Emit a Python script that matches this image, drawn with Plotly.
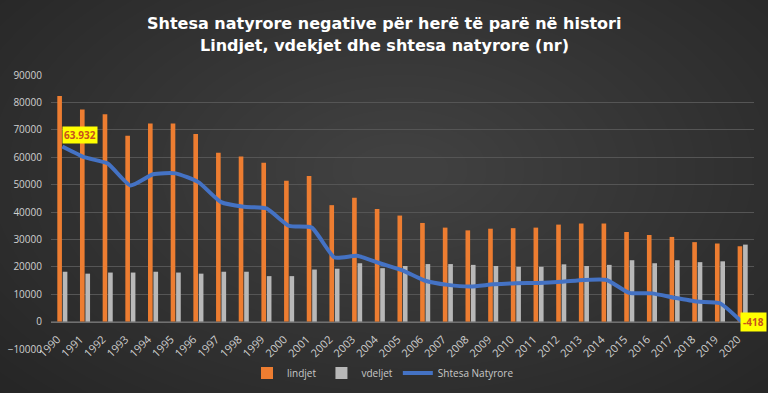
import plotly.graph_objects as go

years = [str(y) for y in range(1990, 2021)]
lindjet = [82300, 77400, 75700, 67800, 72300, 72300, 68500, 61600, 60300, 58000,
           51400, 53100, 42500, 45200, 41100, 38700, 36000, 34300, 33300, 33900,
           34100, 34300, 35400, 35800, 35800, 32700, 31600, 30900, 29000, 28500, 27500]
vdekjet = [18200, 17500, 17900, 17900, 18200, 17900, 17500, 18200, 18200, 16600,
           16600, 19000, 19300, 21300, 19500, 20300, 21000, 21000, 20700, 20300,
           20000, 20000, 20900, 20300, 20700, 22400, 21300, 22400, 21700, 22000, 28100]
shtesa = [63932, 59900, 57700, 49700, 53800, 54100, 50900, 43600, 41900, 41300,
          34900, 34300, 23400, 24000, 21300, 18700, 14900, 13400, 12800, 13600,
          14000, 14100, 14500, 15200, 15200, 10500, 10300, 8700, 7300, 6700, -418]
label_first = "63.932"
label_last = "-418"
title_1 = "Shtesa natyrore negative për herë të parë në histori"
title_2 = "Lindjet, vdekjet dhe shtesa natyrore (nr)"

W, H = 768, 393
ML, MR, MT, MB = 51, 14, 75, 44
pw = W - ML - MR
ph = H - MT - MB


def py(px):
    return (H - MB - px) / ph


def pxx(px):
    return (px - ML) / pw


fig = go.Figure()
fig.add_trace(go.Bar(x=years, y=lindjet, name="lindjet",
                     marker=dict(color="#ED7D31", line=dict(width=0))))
fig.add_trace(go.Bar(x=years, y=vdekjet, name="vdeljet",
                     marker=dict(color="#B8B8B8", line=dict(width=0))))
fig.add_trace(go.Scatter(x=years, y=shtesa, name="Shtesa Natyrore", mode="lines",
                         line=dict(color="#4472C4", width=4, shape="spline", smoothing=0.5)))

# radial vignette background
cx, cy = pxx(400), py(170)
shapes = []
n = 30
for i in range(n):
    hw = 600 - i * 19
    hh = 360 - i * 11.5
    shapes.append(dict(type="circle", xref="paper", yref="paper", layer="below",
                       x0=cx - hw / pw, x1=cx + hw / pw,
                       y0=cy - hh / ph, y1=cy + hh / ph,
                       fillcolor="rgba(255,255,255,0.0085)", line=dict(width=0)))

tfont = dict(family="DejaVu Sans, sans-serif", size=16, color="#ffffff", weight="bold")
lfont = dict(size=10, color="#C8501E", family="Open Sans, sans-serif")

fig.update_layout(
    width=W, height=H,
    margin=dict(l=ML, r=MR, t=MT, b=MB, pad=0, autoexpand=False),
    paper_bgcolor="#222222",
    plot_bgcolor="rgba(0,0,0,0)",
    shapes=shapes,
    barmode="group", bargap=0.52, bargroupgap=0.15,
    font=dict(family="Open Sans, DejaVu Sans, sans-serif", color="#d9d9d9"),
    xaxis=dict(type="category", anchor="free", position=0.1, tickangle=-45,
               showgrid=False, showline=True, linecolor="#707070", linewidth=1,
               ticks="", tickfont=dict(size=11, color="#d0d0d0"), range=[-0.5, 30.5],
               automargin=False, ticklabelshift=-5, ticklabelstandoff=6),
    yaxis=dict(range=[-10000, 90000], dtick=10000, showgrid=True, gridcolor="#555555",
               gridwidth=1, zeroline=False, showline=False, ticks="",
               tickformat="d", tickfont=dict(size=10, color="#d0d0d0"),
               automargin=False, ticklabelstandoff=8),
    legend=dict(orientation="h", x=pxx(383), xanchor="center", y=py(373), yanchor="middle",
                font=dict(size=10, color="#c8c8c8"), bgcolor="rgba(0,0,0,0)",
                itemwidth=30, traceorder="normal"),
    annotations=[
        dict(xref="paper", yref="paper", x=pxx(384), y=py(23), text=title_1,
             showarrow=False, xanchor="center", yanchor="middle", font=tfont),
        dict(xref="paper", yref="paper", x=pxx(384), y=py(46), text=title_2,
             showarrow=False, xanchor="center", yanchor="middle", font=tfont),
        dict(x=0, y=shtesa[0], text="<b>" + label_first + "</b>", showarrow=False,
             xanchor="left", yanchor="bottom", yshift=2,
             bgcolor="#FFFF00", borderpad=1, font=lfont),
        dict(x=len(years) - 1, y=shtesa[-1], text="<b>" + label_last + "</b>", showarrow=False,
             xanchor="left", yanchor="middle", xshift=-3, yshift=1,
             bgcolor="#FFFF00", borderpad=2, font=lfont),
    ],
)

fig.write_html("out.html", config={"displayModeBar": False},
               post_script="document.body.style.margin='0';document.body.style.background='#222222';")
